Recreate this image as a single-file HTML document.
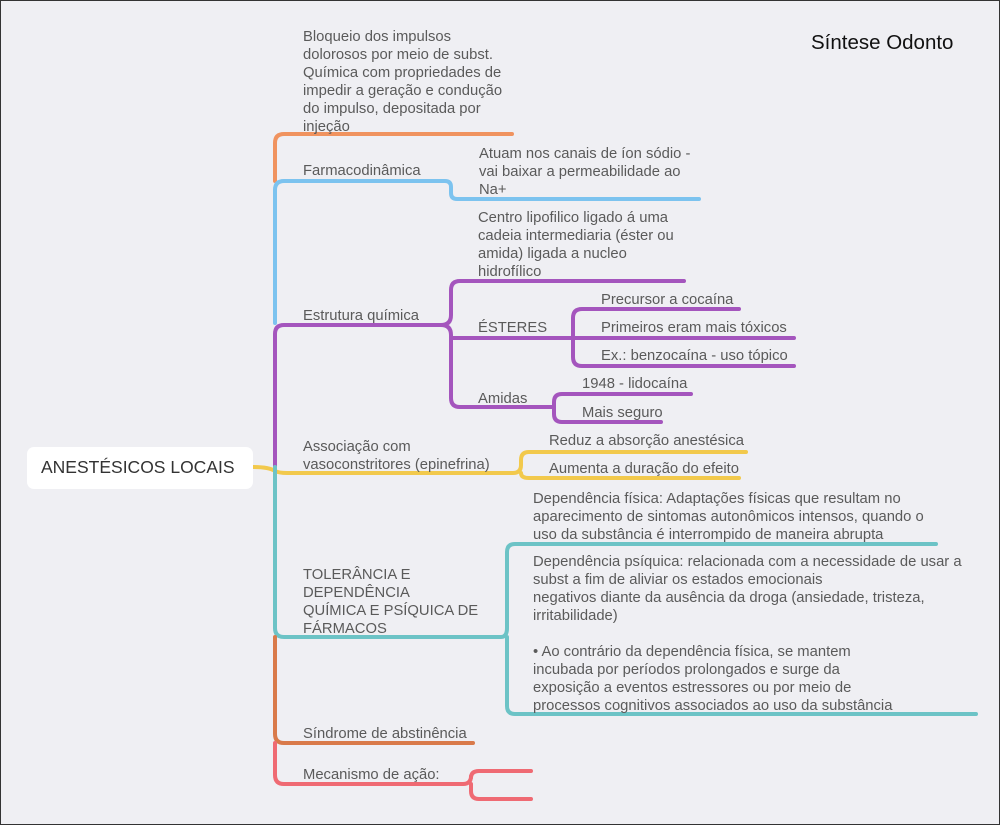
<!DOCTYPE html>
<html><head><meta charset="utf-8"><style>
body{margin:0;}
#c{position:relative;width:998px;height:823px;border:1px solid #333;background:#efeff3;overflow:hidden;font-family:"Liberation Sans",sans-serif;color:#5a5a5a;font-size:14.8px;line-height:18px}
.t{position:absolute;white-space:nowrap}
svg{position:absolute;left:0;top:0}
</style></head><body><div id="c">
<svg width="998" height="823" fill="none" stroke-width="4" stroke-linecap="round" stroke-linejoin="round">
<path d="M274 180 V142 Q274 133 283 133 H511" stroke="#f0935f"/>
<path d="M274 322 V189 Q274 180 283 180 H444 Q450 180 450 186 V192 Q450 198 456 198 H698" stroke="#7cc3ef"/>
<path d="M274 466 V333 Q274 324 283 324 H440 Q450 324 450 314 V289 Q450 280 459 280 H683 M440 324 Q450 324 450 334 V397 Q450 406 459 406 H553 M450 337 H570 M572 337 V317 Q572 308 581 308 H738 M572 337 H793 M572 337 V356 Q572 365 581 365 H793 M553 406 V401 Q553 393 561 393 H690 M553 406 V413 Q553 421 561 421 H660" stroke="#a455bd"/>
<path d="M252 466 Q268 466 274 470 Q278 472 286 472 H512 Q520 472 520 464 V459 Q520 451 528 451 H745 M520 472 Q520 477 528 477 H738" stroke="#f2c94c"/>
<path d="M274 466 V627 Q274 636 283 636 H500 Q506 636 506 627 V551 Q506 543 514 543 H935 M506 636 V705 Q506 713 514 713 H975" stroke="#6cc3c6"/>
<path d="M274 636 V733 Q274 742 283 742 H472" stroke="#d97a4a"/>
<path d="M274 742 V774 Q274 783 283 783 H462 Q470 783 470 775 V777 Q470 770 478 770 H530 M470 783 V790 Q470 798 478 798 H530" stroke="#ef6a73"/>
</svg>
<div style="position:absolute;left:26px;top:446px;width:226px;height:42px;background:#fff;border-radius:7px"></div>
<div class="t" style="left:40px;top:457px;font-size:17.5px;color:#333">ANESTÉSICOS LOCAIS</div>
<div class="t" style="left:810px;top:31px;font-size:20.5px;color:#111;line-height:22px">Síntese Odonto</div>
<div class="t" style="left:302px;top:27px">Bloqueio dos impulsos<br>dolorosos por meio de subst.<br>Química com propriedades de<br>impedir a geração e condução<br>do impulso, depositada por<br>injeção</div>
<div class="t" style="left:302px;top:161px">Farmacodinâmica</div>
<div class="t" style="left:478px;top:144px">Atuam nos canais de íon sódio -<br>vai baixar a permeabilidade ao<br>Na+</div>
<div class="t" style="left:477px;top:208px">Centro lipofilico ligado á uma<br>cadeia intermediaria (éster ou<br>amida) ligada a nucleo<br>hidrofílico</div>
<div class="t" style="left:302px;top:306px">Estrutura química</div>
<div class="t" style="left:477px;top:318px">ÉSTERES</div>
<div class="t" style="left:600px;top:290px">Precursor a cocaína</div>
<div class="t" style="left:600px;top:318px">Primeiros eram mais tóxicos</div>
<div class="t" style="left:600px;top:346px">Ex.: benzocaína - uso tópico</div>
<div class="t" style="left:477px;top:389px">Amidas</div>
<div class="t" style="left:581px;top:374px">1948 - lidocaína</div>
<div class="t" style="left:581px;top:403px">Mais seguro</div>
<div class="t" style="left:302px;top:437px">Associação com<br>vasoconstritores (epinefrina)</div>
<div class="t" style="left:548px;top:431px">Reduz a absorção anestésica</div>
<div class="t" style="left:548px;top:459px">Aumenta a duração do efeito</div>
<div class="t" style="left:532px;top:489px">Dependência física: Adaptações físicas que resultam no<br>aparecimento de sintomas autonômicos intensos, quando o<br>uso da substância é interrompido de maneira abrupta</div>
<div class="t" style="left:532px;top:552px">Dependência psíquica: relacionada com a necessidade de usar a<br>subst a fim de aliviar os estados emocionais<br>negativos diante da ausência da droga (ansiedade, tristeza,<br>irritabilidade)<br><br>• Ao contrário da dependência física, se mantem<br>incubada por períodos prolongados e surge da<br>exposição a eventos estressores ou por meio de<br>processos cognitivos associados ao uso da substância</div>
<div class="t" style="left:302px;top:565px">TOLERÂNCIA E<br>DEPENDÊNCIA<br>QUÍMICA E PSÍQUICA DE<br>FÁRMACOS</div>
<div class="t" style="left:302px;top:724px">Síndrome de abstinência</div>
<div class="t" style="left:302px;top:765px">Mecanismo de ação:</div>
</div></body></html>
